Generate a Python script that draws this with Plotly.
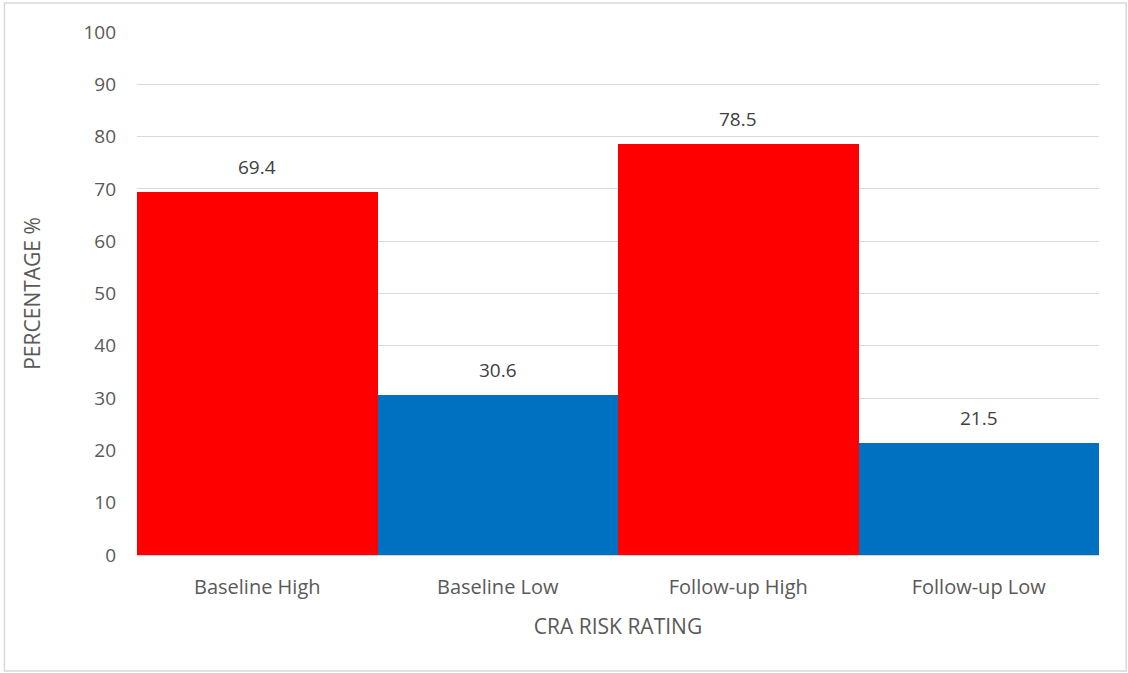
import plotly.graph_objects as go

categories = ["Baseline High", "Baseline Low", "Follow-up High", "Follow-up Low"]
percentages = [69.4, 30.6, 78.5, 21.5]
bar_colors = ["#FF0000", "#0070C0", "#FF0000", "#0070C0"]
y_ticks = list(range(0, 101, 10))

FONT = "Open Sans, sans-serif"

fig = go.Figure(
    go.Bar(
        x=categories,
        y=percentages,
        marker=dict(color=bar_colors, line=dict(width=0)),
        hoverinfo="x+y",
    )
)

# value labels above each bar
for cat, val in zip(categories, percentages):
    fig.add_annotation(
        x=cat, y=val, text=f"{val:.1f}", showarrow=False,
        yanchor="bottom", yshift=10,
        font=dict(family=FONT, size=19, color="#404040"),
    )

# chart outline
fig.add_shape(
    type="rect", xref="paper", yref="paper",
    x0=-0.1378, x1=1.0283, y0=-0.2217, y1=1.0554,
    line=dict(color="#D9D9D9", width=1.5), fillcolor="rgba(0,0,0,0)",
    layer="below",
)

fig.update_layout(
    width=1128, height=673,
    margin=dict(l=137, r=29, t=32, b=118),
    paper_bgcolor="white", plot_bgcolor="white",
    bargap=0,
    showlegend=False,
    font=dict(family=FONT, color="#595959", size=19),
    xaxis=dict(
        title=dict(text="CRA RISK RATING", font=dict(size=21, color="#595959"), standoff=20),
        tickfont=dict(size=20, color="#595959"),
        showline=True, linecolor="#D0D0D0", linewidth=1,
        ticks="", showgrid=False, ticklabelstandoff=14,
    ),
    yaxis=dict(
        title=dict(text="PERCENTAGE %", font=dict(size=21, color="#595959"), standoff=37),
        range=[0, 100], tickvals=y_ticks,
        tickfont=dict(size=19, color="#595959"),
        showgrid=True, gridcolor="#D9D9D9", gridwidth=1,
        zeroline=False, ticks="", ticklabelstandoff=20,
    ),
)

fig.write_html("out.html")
